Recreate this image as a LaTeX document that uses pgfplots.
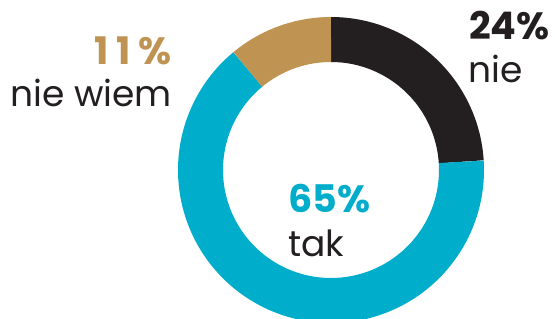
\documentclass[border=0pt]{standalone}
\usepackage{pgfplots}
\pgfplotsset{compat=1.18}
\usepackage{fontspec}
\setmainfont{Poppins}
\definecolor{cblack}{HTML}{231F20}
\definecolor{cblue}{HTML}{00ADCA}
\definecolor{cgold}{HTML}{BF9452}
% values (percent)
\def\vNie{24}
\def\vTak{65}
\def\vNieWiem{11}
\begin{document}
\begin{tikzpicture}
\pgfmathsetmacro{\aA}{90}
\pgfmathsetmacro{\aB}{90-3.6*\vNie}
\pgfmathsetmacro{\aC}{\aB-3.6*\vTak}
\pgfmathsetmacro{\aD}{\aC-3.6*\vNieWiem}
\begin{axis}[
  x=1pt, y=1pt,
  xmin=-331, xmax=224, ymin=-149, ymax=170,
  hide axis, clip=true,
]
\draw[draw=none] (rel axis cs:0,0) rectangle (rel axis cs:1,1);
\addplot[cblack, line width=45pt, data cs=polar, domain=\aB:\aA, samples=120] ({x},{130.5});
\addplot[cblue, line width=45pt, data cs=polar, domain=\aC:\aB, samples=240] ({x},{130.5});
\addplot[cgold, line width=45pt, data cs=polar, domain=\aD:\aC, samples=80] ({x},{130.5});
\tikzset{num/.style={font=\fontsize{38}{38}\selectfont\bfseries, inner sep=0pt},
         lab/.style={font=\fontsize{36}{36}\selectfont, text=cblack, inner sep=0pt}}
\node[anchor=base west, num, text=cblack] at (axis cs:138,130) {24\%};
\node[anchor=base west, lab] at (axis cs:137,87) {nie};
\node[anchor=base east, num, text=cgold] at (axis cs:-159,105) {\kern2pt1\kern8pt1\kern8pt\%};
\node[anchor=base east, lab] at (axis cs:-159,63) {nie wiem};
\node[anchor=base west, num, text=cblue] at (axis cs:-43,-43) {65\%};
\node[anchor=base west, lab] at (axis cs:-43,-87) {tak};
\end{axis}
\end{tikzpicture}
\end{document}
